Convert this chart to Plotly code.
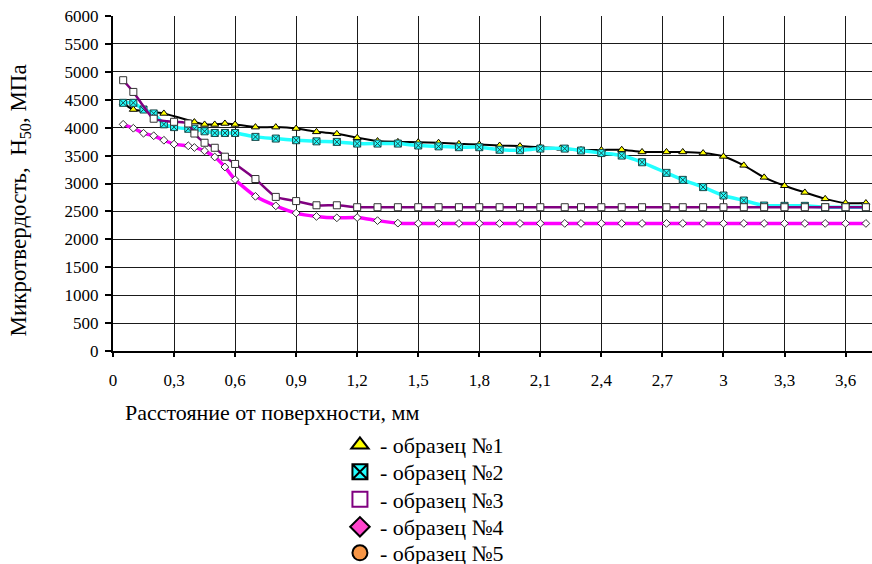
import plotly.graph_objects as go

# ---- data ----
x_ticks = [0, 0.3, 0.6, 0.9, 1.2, 1.5, 1.8, 2.1, 2.4, 2.7, 3.0, 3.3, 3.6]
x_ticktext = ["0", "0,3", "0,6", "0,9", "1,2", "1,5", "1,8", "2,1", "2,4", "2,7", "3", "3,3", "3,6"]
y_ticks = [0, 500, 1000, 1500, 2000, 2500, 3000, 3500, 4000, 4500, 5000, 5500, 6000]

s1_x = [0.05, 0.1, 0.25, 0.4, 0.45, 0.5, 0.55, 0.6, 0.7, 0.8, 0.9, 1.0, 1.1, 1.2, 1.3, 1.4, 1.5, 1.6,
        1.7, 1.8, 1.9, 2.0, 2.1, 2.2, 2.3, 2.4, 2.5, 2.6, 2.72, 2.8, 2.9, 3.0, 3.1, 3.2, 3.3, 3.4,
        3.5, 3.6, 3.7]
s1_y = [4440, 4325, 4255, 4100, 4058, 4058, 4075, 4058, 4010, 4010, 3985, 3925, 3890, 3820, 3760,
        3745, 3740, 3730, 3710, 3700, 3680, 3670, 3650, 3630, 3600, 3600, 3605, 3565, 3565, 3565,
        3545, 3485, 3325, 3110, 2960, 2840, 2725, 2650, 2650]

s2_x = [0.05, 0.1, 0.15, 0.2, 0.25, 0.3, 0.37, 0.4, 0.45, 0.5, 0.55, 0.6, 0.7, 0.8, 0.9, 1.0, 1.1,
        1.2, 1.3, 1.4, 1.5, 1.6, 1.7, 1.8, 1.9, 2.0, 2.1, 2.22, 2.3, 2.4, 2.5, 2.6, 2.72, 2.8, 2.9,
        3.0, 3.1, 3.2, 3.3, 3.4, 3.5, 3.6, 3.7]
s2_y = [4445, 4445, 4325, 4255, 4060, 4010, 3980, 3980, 3935, 3905, 3905, 3905, 3835, 3805, 3775,
        3755, 3745, 3715, 3715, 3715, 3680, 3665, 3650, 3650, 3605, 3595, 3625, 3625, 3590, 3545,
        3500, 3380, 3190, 3065, 2935, 2785, 2695, 2605, 2600, 2600, 2575, 2575, 2575]

s3_x = [0.05, 0.1, 0.2, 0.3, 0.37, 0.4, 0.45, 0.5, 0.55, 0.6, 0.7, 0.8, 0.9, 1.0, 1.1, 1.2, 1.3,
        1.4, 1.5, 1.6, 1.7, 1.8, 1.9, 2.0, 2.1, 2.22, 2.3, 2.4, 2.5, 2.6, 2.72, 2.8, 2.9, 3.0, 3.1,
        3.2, 3.3, 3.4, 3.5, 3.6, 3.7]
s3_y = [4850, 4640, 4160, 4105, 4075, 3895, 3730, 3640, 3480, 3350, 3080, 2760, 2685, 2610, 2610,
        2575, 2575, 2575, 2575, 2575, 2575, 2575, 2575, 2575, 2575, 2575, 2575, 2575, 2575, 2575,
        2575, 2575, 2575, 2575, 2575, 2575, 2575, 2575, 2575, 2575, 2575]

s4_x = [0.05, 0.1, 0.15, 0.2, 0.25, 0.3, 0.37, 0.4, 0.45, 0.5, 0.55, 0.6, 0.7, 0.8, 0.9, 1.0, 1.1,
        1.2, 1.3, 1.4, 1.5, 1.6, 1.7, 1.8, 1.9, 2.0, 2.1, 2.22, 2.3, 2.4, 2.5, 2.6, 2.72, 2.8, 2.9,
        3.0, 3.1, 3.2, 3.3, 3.4, 3.5, 3.6, 3.7]
s4_y = [4060, 3990, 3900, 3855, 3775, 3705, 3675, 3645, 3585, 3475, 3295, 3070, 2770, 2600, 2470,
        2410, 2385, 2390, 2335, 2290, 2285, 2285, 2285, 2285, 2285, 2285, 2285, 2285, 2285, 2285,
        2285, 2285, 2285, 2285, 2285, 2285, 2285, 2285, 2285, 2285, 2285, 2285, 2285]

legend_names = ["- образец №1", "- образец №2", "- образец №3", "- образец №4", "- образец №5"]

SERIF = "Liberation Serif"

fig = go.Figure()

# data traces
fig.add_trace(go.Scatter(x=s1_x, y=s1_y, mode="lines+markers", showlegend=False,
                         line=dict(color="#000000", width=2, shape="spline", smoothing=0.6),
                         marker=dict(symbol="triangle-up", size=7, color="#FFFF00",
                                     line=dict(color="#000000", width=1))))
fig.add_trace(go.Scatter(x=s2_x, y=s2_y, mode="lines+markers", showlegend=False,
                         line=dict(color="#22FFFF", width=3.5, shape="spline", smoothing=0.6),
                         marker=dict(symbol="square-x", size=7, color="#22FFFF",
                                     line=dict(color="#1A4A4A", width=1))))
fig.add_trace(go.Scatter(x=s3_x, y=s3_y, mode="lines+markers", showlegend=False,
                         line=dict(color="#800080", width=2.5, shape="spline", smoothing=0.6),
                         marker=dict(symbol="square", size=7, color="#FFFFFF",
                                     line=dict(color="#333333", width=1))))
fig.add_trace(go.Scatter(x=s4_x, y=s4_y, mode="lines+markers", showlegend=False,
                         line=dict(color="#FF00FF", width=3.5, shape="spline", smoothing=0.6),
                         marker=dict(symbol="diamond", size=6, color="#FFFFFF",
                                     line=dict(color="#333333", width=1))))

# legend-only traces, each in its own legend box
leg_styles = [
    dict(symbol="triangle-up", color="#FFFF00", line=dict(color="#000000", width=2)),
    dict(symbol="square-x", color="#22FFFF", line=dict(color="#000000", width=2)),
    dict(symbol="square", color="#FFFFFF", line=dict(color="#800080", width=2)),
    dict(symbol="diamond", color="#FF44CC", line=dict(color="#000000", width=2)),
    dict(symbol="circle", color="#F79646", line=dict(color="#000000", width=2)),
]
legend_ids = ["legend", "legend2", "legend3", "legend4", "legend5"]
for name, st, lid in zip(legend_names, leg_styles, legend_ids):
    fig.add_trace(go.Scatter(x=[None], y=[None], mode="markers", name=name, legend=lid,
                             marker=dict(size=15, **st)))

PLOT_TOP, PLOT_BOTTOM = 16, 351
def paper_y(py):
    return (PLOT_BOTTOM - py) / (PLOT_BOTTOM - PLOT_TOP)

legend_centers = [445, 472, 499.5, 527, 553]
legend_layouts = {}
for lid, cy in zip(legend_ids, legend_centers):
    legend_layouts[lid] = dict(x=0.299, xanchor="left", y=paper_y(cy), yanchor="middle",
                               font=dict(family=SERIF, size=22, color="#000000"),
                               bgcolor="rgba(0,0,0,0)", itemsizing="trace")

fig.update_layout(
    width=872, height=564,
    margin=dict(l=113, r=0, t=PLOT_TOP, b=564 - PLOT_BOTTOM, autoexpand=False),
    paper_bgcolor="white", plot_bgcolor="white",
    font=dict(family=SERIF, color="#000000", size=17),
    **legend_layouts,
    xaxis=dict(range=[0, 3.73], tickmode="array", tickvals=x_ticks, ticktext=x_ticktext,
               showgrid=True, gridcolor="#1a1a1a", gridwidth=1, zeroline=False,
               showline=True, linecolor="#000000", linewidth=2,
               ticks="outside", ticklen=4, tickwidth=2, tickcolor="#000000",
               ticklabelstandoff=9,
               tickfont=dict(family=SERIF, size=17, color="#000000")),
    yaxis=dict(range=[0, 6000], tickmode="array", tickvals=y_ticks,
               showgrid=True, gridcolor="#1a1a1a", gridwidth=1, zeroline=False,
               showline=True, linecolor="#000000", linewidth=2,
               ticks="outside", ticklen=6, tickwidth=2, tickcolor="#000000",
               ticklabelstandoff=3,
               tickfont=dict(family=SERIF, size=17, color="#000000")),
    annotations=[
        dict(text="Расстояние от поверхности, мм", xref="paper", yref="paper",
             x=0.013, y=paper_y(413), xanchor="left", yanchor="middle", showarrow=False,
             font=dict(family=SERIF, size=22, color="#000000")),
        dict(text="Микротвердость,  H<sub>50</sub>, МПа", xref="paper", yref="paper",
             x=-0.122, y=paper_y(200), xanchor="center", yanchor="middle", textangle=-90,
             showarrow=False, font=dict(family=SERIF, size=23, color="#000000")),
    ],
)

fig.write_html("out.html", config={"displayModeBar": False},
               post_script="document.body.style.margin='0';")
